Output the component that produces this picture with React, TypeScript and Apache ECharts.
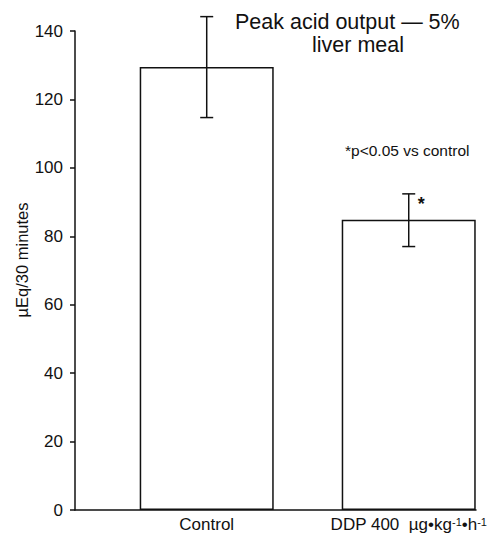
import React, { useEffect, useRef } from "react";
import * as echarts from "echarts";

const categories = ["Control", "DDP 400  µg•kg⁻¹•h⁻¹"];
const positions = [1, 2];
const means = [129.5, 84.8];
const errLow = [114.7, 77.0];
const errHigh = [144.2, 92.4];
const significance = ["", "*"];
const yTicks = [0, 20, 40, 60, 80, 100, 120, 140];

export default function App() {
  const ref = useRef<HTMLDivElement>(null);
  useEffect(() => {
    document.body.style.margin = "0";
    const chart = echarts.init(ref.current!, null, { renderer: "svg" });
    const font = "Liberation Sans, Arial, Helvetica, sans-serif";
    chart.setOption({
      animation: false,
      backgroundColor: "#fff",
      grid: { left: 75, right: 13, top: 31, bottom: 23, containLabel: false },
      xAxis: {
        type: "value",
        min: 0.348,
        max: 2.333,
        splitLine: { show: false },
        axisTick: { show: false },
        axisLine: { show: true, lineStyle: { color: "#111", width: 1.5 } },
        axisLabel: {
          customValues: positions,
          formatter: (v: number) => {
            const t = categories[positions.indexOf(Math.round(v))] ?? "";
            return t.replace(/⁻¹/g, "{sup|-1}");
          },
          fontSize: 17,
          fontFamily: font,
          color: "#111",
          margin: 6,
          rich: {
            sup: { fontSize: 11, fontFamily: font, color: "#111", verticalAlign: "top", padding: [0, 0, 6, 0] },
          },
        },
      },
      yAxis: {
        type: "value",
        min: yTicks[0],
        max: yTicks[yTicks.length - 1],
        interval: 20,
        splitLine: { show: false },
        axisLine: { show: true, lineStyle: { color: "#111", width: 1.5 } },
        axisTick: { show: true, length: 5, lineStyle: { color: "#111", width: 1.5 } },
        axisLabel: { fontSize: 17, fontFamily: font, color: "#111", margin: 12 },
      },
      graphic: [
        {
          type: "text",
          x: 22,
          y: 260,
          rotation: Math.PI / 2,
          style: {
            text: "µEq/30 minutes",
            fontSize: 16.5,
            fontFamily: font,
            fill: "#111",
            align: "center",
            verticalAlign: "middle",
          },
        },
        {
          type: "text",
          x: 235,
          y: 11,
          style: { text: "Peak acid output — 5%", fontSize: 21.5, fontFamily: font, fill: "#111", align: "left", verticalAlign: "top" },
        },
        {
          type: "text",
          x: 358,
          y: 34,
          style: { text: "liver meal", fontSize: 21.5, fontFamily: font, fill: "#111", align: "center", verticalAlign: "top" },
        },
        {
          type: "text",
          x: 345,
          y: 142,
          style: { text: "*p<0.05 vs control", fontSize: 15.5, fontFamily: font, fill: "#111", align: "left", verticalAlign: "top" },
        },
      ],
      series: [
        {
          type: "bar",
          barWidth: 134,
          data: positions.map((p, i) => [p, means[i]]),
          itemStyle: { color: "#fff", borderColor: "#111", borderWidth: 1.5 },
          silent: true,
        },
        {
          type: "custom",
          data: positions.map((p, i) => [p, errLow[i], errHigh[i], i]),
          renderItem: (params: any, api: any) => {
            const x = api.value(0);
            const lo = api.coord([x, api.value(1)]);
            const hi = api.coord([x, api.value(2)]);
            const idx = api.value(3);
            const cap = 6.5;
            const style = { stroke: "#111", lineWidth: 1.5 };
            const children: any[] = [
              { type: "line", shape: { x1: lo[0], y1: lo[1], x2: hi[0], y2: hi[1] }, style },
              { type: "line", shape: { x1: hi[0] - cap, y1: hi[1], x2: hi[0] + cap, y2: hi[1] }, style },
              { type: "line", shape: { x1: lo[0] - cap, y1: lo[1], x2: lo[0] + cap, y2: lo[1] }, style },
            ];
            const s = significance[idx];
            if (s) {
              children.push({
                type: "text",
                x: hi[0] + 9,
                y: hi[1] + 1,
                style: { text: s, fontSize: 18, fontWeight: "bold", fontFamily: font, fill: "#111", align: "left", verticalAlign: "top" },
              });
            }
            return { type: "group", children };
          },
          silent: true,
          z: 5,
        },
      ],
    });
    return () => chart.dispose();
  }, []);
  return <div ref={ref} style={{ width: 490, height: 533 }} />;
}
